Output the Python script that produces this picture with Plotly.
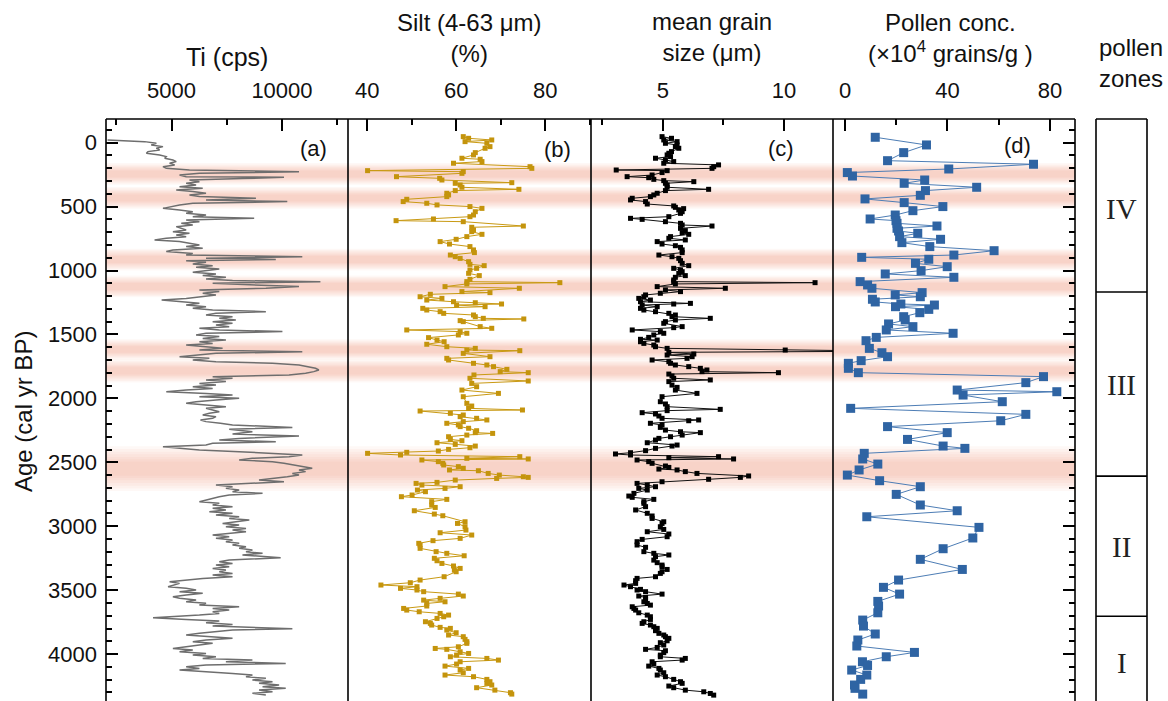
import plotly.graph_objects as go

# ---------------- data ----------------
# Ti (XRF counts) against age
ti_age = [-21, -8, 5, 18, 31, 44, 57, 70, 83, 96, 109, 122, 135, 148, 161, 174, 188, 201, 214, 227,
          240, 253, 266, 271, 281, 292, 305, 318, 331, 344, 357, 370, 383, 396, 409, 422, 435, 448, 461, 474,
          487, 500, 514, 527, 540, 553, 566, 579, 592, 605, 618, 631, 644, 657, 683, 696, 709, 722, 735, 748,
          761, 774, 787, 800, 813, 826, 839, 852, 866, 879, 892, 905, 913, 923, 936, 949, 962, 975, 988, 1001,
          1014, 1027, 1040, 1053, 1066, 1079, 1087, 1100, 1113, 1126, 1139, 1152, 1165, 1178, 1191, 1205, 1218, 1231, 1244, 1257,
          1270, 1283, 1296, 1309, 1322, 1335, 1348, 1361, 1374, 1387, 1400, 1413, 1426, 1439, 1452, 1465, 1478, 1491, 1504, 1517,
          1531, 1544, 1557, 1570, 1583, 1596, 1609, 1622, 1635, 1648, 1661, 1674, 1687, 1700, 1713, 1726, 1739, 1752, 1765, 1778,
          1791, 1804, 1817, 1830, 1843, 1856, 1869, 1883, 1896, 1909, 1922, 1935, 1948, 1961, 1974, 1987, 2000, 2013, 2026, 2039,
          2052, 2065, 2078, 2091, 2104, 2117, 2130, 2143, 2156, 2169, 2182, 2195, 2208, 2227, 2242, 2261, 2279, 2294, 2313, 2326,
          2339, 2352, 2365, 2378, 2391, 2404, 2417, 2430, 2443, 2456, 2469, 2482, 2495, 2508, 2521, 2534, 2547, 2560, 2573, 2587,
          2600, 2613, 2626, 2639, 2652, 2665, 2678, 2691, 2704, 2717, 2730, 2743, 2756, 2769, 2782, 2795, 2808, 2821, 2834, 2847,
          2860, 2873, 2886, 2899, 2912, 2926, 2939, 2952, 2965, 2978, 2991, 3004, 3017, 3030, 3043, 3056, 3069, 3082, 3095, 3108,
          3121, 3134, 3147, 3160, 3173, 3186, 3199, 3212, 3225, 3246, 3265, 3278, 3291, 3304, 3317, 3330, 3343, 3356, 3369, 3382,
          3395, 3408, 3421, 3434, 3447, 3460, 3473, 3486, 3499, 3512, 3525, 3538, 3551, 3564, 3577, 3590, 3603, 3616, 3630, 3643,
          3656, 3669, 3682, 3695, 3716, 3729, 3742, 3755, 3768, 3781, 3791, 3802, 3812, 3825, 3838, 3851, 3864, 3877, 3890, 3903,
          3916, 3929, 3943, 3956, 3969, 3982, 3995, 4008, 4021, 4034, 4047, 4060, 4073, 4086, 4099, 4112, 4125, 4138, 4151, 4164,
          4177, 4190, 4203, 4216, 4229, 4242, 4255, 4268, 4281, 4294, 4307, 4320]
ti_cps = [2100, 3780, 4310, 4080, 4610, 4310, 4460, 3930, 3860, 4460, 4760, 4690, 5060, 5210, 4910, 5140, 4610, 4760, 5810, 10770,
          6260, 5360, 5660, 10090, 8210, 5810, 6260, 5660, 6110, 5360, 6410, 5210, 5960, 6560, 5810, 6260, 8820, 6560, 10240, 5960,
          5360, 5060, 4610, 5360, 5960, 5660, 6560, 5960, 8740, 5660, 6260, 5440, 5960, 5210, 5660, 5060, 5810, 5210, 5660, 4760,
          4230, 5360, 5810, 6260, 5660, 6410, 5060, 4760, 5960, 5660, 10920, 6560, 9720, 5660, 6560, 5960, 6860, 6110, 7160, 6560,
          5960, 7010, 6410, 7460, 6560, 7760, 11740, 6860, 8960, 10770, 9270, 6260, 7160, 6410, 7010, 6260, 5660, 4550, 5360, 6260,
          5660, 6560, 5960, 6860, 9270, 7010, 6560, 7760, 7160, 7910, 6860, 7760, 7010, 7610, 6260, 7160, 10020, 6560, 6110, 7160,
          6410, 7460, 6260, 6860, 5660, 6560, 7310, 6260, 10920, 7010, 6260, 5360, 6710, 5960, 7010, 9570, 10770, 11220, 11520, 11670,
          11440, 11070, 10320, 6860, 7760, 6560, 7460, 6260, 7010, 5960, 6860, 5660, 4760, 6560, 7760, 6260, 8060, 7010, 6110, 5660,
          6710, 7460, 6560, 6910, 7160, 6710, 6410, 7010, 6860, 6310, 6560, 7210, 7760, 10470, 7610, 8660, 7760, 10770, 8060, 7160,
          9720, 6860, 6560, 4610, 5660, 6260, 8060, 9270, 10920, 10320, 8660, 8060, 9570, 10090, 10470, 10920, 11370, 10770, 11070, 10470,
          10770, 10240, 9570, 8960, 10090, 8660, 7010, 7760, 7460, 8060, 7760, 9120, 7610, 7160, 6860, 6560, 6260, 7160, 6860, 7760,
          6860, 7460, 6710, 7760, 7010, 8060, 7610, 8520, 7760, 7310, 8060, 7460, 8370, 7760, 8370, 7610, 6860, 7610, 7010, 7760,
          7460, 8060, 7760, 8370, 8060, 8660, 8370, 9120, 8210, 9940, 7610, 7160, 7760, 7010, 7610, 6860, 7460, 7160, 7760, 6860,
          7760, 6410, 5660, 4910, 5360, 5060, 4840, 5660, 6110, 5360, 6410, 5660, 5060, 5360, 6110, 5660, 6560, 6260, 8060, 6860,
          7610, 6860, 7160, 6260, 4160, 5660, 7160, 6560, 7760, 6860, 8820, 10470, 7760, 6860, 6260, 5660, 6560, 7760, 6560, 5960,
          6860, 6260, 5660, 5060, 5960, 5360, 6560, 5960, 7010, 6410, 8660, 7460, 10170, 6560, 5660, 6260, 5360, 6860, 7760, 8660,
          8370, 9270, 8660, 9570, 8960, 9870, 9120, 10170, 8960, 9570, 8660, 9270]

# Silt (4-63 um) percentage
silt_age = [-47, -34, -21, -8, 5, 31, 44, 78, 96, 122, 130, 148, 161, 188, 201, 219, 227, 240, 266, 279,
            292, 313, 318, 331, 349, 365, 375, 396, 409, 422, 443, 461, 474, 487, 500, 514, 540, 566, 579, 597,
            610, 618, 652, 662, 683, 696, 717, 735, 756, 774, 793, 813, 839, 860, 879, 892, 905, 931, 952, 962,
            983, 996, 1022, 1040, 1069, 1087, 1095, 1105, 1126, 1139, 1165, 1173, 1186, 1205, 1218, 1231, 1244, 1252, 1262, 1270,
            1283, 1296, 1309, 1322, 1335, 1348, 1361, 1374, 1379, 1392, 1400, 1439, 1452, 1465, 1478, 1491, 1504, 1525, 1544, 1557,
            1577, 1596, 1609, 1622, 1627, 1648, 1674, 1687, 1700, 1726, 1739, 1752, 1773, 1791, 1799, 1817, 1843, 1864, 1883, 1909,
            1935, 1961, 1987, 2039, 2060, 2078, 2091, 2099, 2117, 2130, 2143, 2156, 2169, 2182, 2195, 2208, 2221, 2234, 2253, 2268,
            2274, 2287, 2300, 2321, 2331, 2347, 2360, 2373, 2386, 2399, 2412, 2422, 2430, 2443, 2456, 2469, 2474, 2482, 2495, 2508,
            2521, 2534, 2547, 2560, 2566, 2587, 2600, 2613, 2618, 2626, 2639, 2657, 2665, 2678, 2691, 2704, 2717, 2730, 2756, 2769,
            2790, 2808, 2834, 2853, 2879, 2905, 2918, 2965, 2978, 3004, 3030, 3051, 3069, 3095, 3113, 3134, 3147, 3173, 3199, 3212,
            3231, 3251, 3270, 3291, 3311, 3330, 3343, 3356, 3395, 3421, 3442, 3460, 3473, 3486, 3499, 3512, 3531, 3546, 3564, 3578,
            3591, 3604, 3624, 3643, 3656, 3669, 3682, 3695, 3708, 3721, 3747, 3760, 3773, 3791, 3799, 3812, 3833, 3851, 3864, 3885,
            3903, 3916, 3943, 3956, 3963, 3982, 3995, 4008, 4021, 4034, 4047, 4060, 4078, 4094, 4112, 4125, 4146, 4164, 4177, 4198,
            4216, 4229, 4242, 4263, 4282, 4302, 4313]
silt_pct = [61.6, 62.8, 68.0, 62.0, 66.9, 67.6, 66.5, 64.3, 63.9, 61.3, 65.4, 65.8, 59.4, 76.6, 77.0, 40.1, 61.6, 61.3, 46.6, 56.3,
            56.8, 72.5, 59.8, 60.9, 61.3, 74.1, 59.8, 57.9, 58.3, 57.9, 48.9, 48.1, 53.4, 55.7, 63.1, 65.8, 64.3, 63.9, 63.1, 54.9,
            46.5, 61.6, 75.1, 63.5, 63.9, 63.5, 65.8, 62.4, 60.0, 56.4, 58.5, 63.1, 63.9, 64.1, 58.7, 59.8, 60.9, 62.8, 63.1, 66.3,
            64.6, 63.1, 62.8, 65.2, 63.1, 62.4, 83.3, 62.4, 57.5, 74.2, 61.3, 67.6, 54.2, 51.9, 56.8, 53.4, 59.4, 64.3, 70.2, 60.1,
            66.5, 52.5, 53.4, 56.4, 57.2, 63.9, 64.3, 66.1, 75.2, 60.9, 61.6, 65.4, 68.0, 48.9, 60.9, 62.4, 60.5, 53.8, 55.7, 57.3,
            53.4, 57.9, 64.3, 62.4, 74.3, 61.6, 67.6, 57.9, 58.3, 63.9, 66.9, 68.4, 71.4, 69.9, 76.2, 64.0, 63.1, 76.2, 63.5, 64.6,
            61.3, 69.5, 61.6, 62.4, 63.5, 62.8, 74.9, 51.9, 58.7, 61.6, 60.9, 64.6, 66.9, 61.6, 57.9, 60.5, 60.9, 62.8, 64.6, 64.3,
            68.2, 62.4, 58.3, 58.7, 61.3, 55.7, 59.8, 64.3, 63.1, 58.3, 56.0, 48.9, 40.1, 47.5, 74.3, 62.4, 76.2, 52.3, 56.0, 57.0,
            57.2, 60.5, 61.6, 58.5, 65.0, 67.2, 69.7, 75.1, 76.2, 69.1, 59.8, 55.7, 51.0, 52.3, 60.9, 57.5, 51.3, 53.1, 50.1, 47.7,
            57.9, 54.5, 54.5, 55.3, 50.6, 55.1, 57.0, 62.0, 60.3, 62.0, 62.2, 56.4, 63.5, 60.9, 54.8, 51.6, 51.9, 51.9, 55.5, 57.9,
            61.8, 55.1, 55.7, 56.8, 59.4, 60.9, 59.6, 60.0, 57.3, 51.9, 49.7, 43.1, 51.2, 47.5, 51.2, 52.7, 60.5, 61.6, 56.4, 52.7,
            57.5, 53.4, 53.4, 48.2, 48.9, 51.7, 56.4, 58.3, 57.2, 55.7, 53.1, 54.2, 54.5, 56.4, 58.7, 57.9, 60.0, 58.3, 61.6, 62.0,
            62.4, 62.4, 60.5, 55.3, 57.9, 60.9, 62.8, 60.1, 58.7, 66.9, 69.5, 60.9, 60.1, 57.5, 62.8, 60.9, 61.6, 57.5, 63.9, 66.9,
            67.6, 66.9, 68.0, 64.6, 68.7, 72.2, 72.5]

# Mean grain size (um)
gs_age = [-47, -34, -21, -8, 5, 18, 31, 44, 70, 83, 96, 109, 122, 135, 148, 161, 174, 188, 201, 214,
          219, 234, 253, 266, 274, 287, 297, 305, 318, 331, 349, 365, 375, 396, 409, 422, 435, 448, 461, 480,
          495, 506, 516, 527, 540, 553, 579, 592, 600, 618, 631, 644, 652, 670, 688, 704, 717, 735, 748, 761,
          774, 793, 806, 819, 839, 860, 879, 892, 905, 923, 944, 962, 983, 996, 1009, 1022, 1040, 1053, 1074, 1087,
          1095, 1105, 1126, 1139, 1152, 1165, 1178, 1191, 1205, 1218, 1231, 1244, 1257, 1262, 1270, 1283, 1296, 1309, 1322, 1335,
          1348, 1361, 1374, 1387, 1400, 1413, 1439, 1447, 1465, 1478, 1491, 1504, 1523, 1538, 1544, 1557, 1570, 1583, 1596, 1609,
          1622, 1631, 1640, 1653, 1661, 1674, 1687, 1700, 1713, 1726, 1739, 1752, 1765, 1778, 1791, 1799, 1810, 1825, 1843, 1856,
          1869, 1896, 1914, 1935, 1961, 1987, 2026, 2044, 2065, 2086, 2096, 2112, 2122, 2138, 2156, 2169, 2175, 2195, 2208, 2227,
          2248, 2261, 2268, 2287, 2300, 2313, 2326, 2347, 2365, 2373, 2391, 2409, 2425, 2435, 2443, 2456, 2464, 2474, 2482, 2495,
          2508, 2529, 2540, 2553, 2560, 2573, 2587, 2607, 2618, 2633, 2652, 2665, 2678, 2691, 2704, 2717, 2743, 2764, 2774, 2790,
          2808, 2821, 2847, 2873, 2899, 2920, 2939, 2965, 2978, 3004, 3025, 3043, 3061, 3082, 3103, 3121, 3147, 3165, 3199, 3212,
          3225, 3238, 3265, 3285, 3304, 3317, 3338, 3356, 3369, 3395, 3408, 3426, 3447, 3460, 3473, 3494, 3499, 3512, 3531, 3546,
          3557, 3572, 3591, 3604, 3617, 3630, 3643, 3656, 3677, 3695, 3708, 3729, 3747, 3760, 3773, 3786, 3799, 3817, 3838, 3851,
          3864, 3877, 3896, 3911, 3929, 3948, 3963, 3974, 3989, 4008, 4021, 4034, 4047, 4060, 4078, 4094, 4112, 4125, 4146, 4164,
          4177, 4198, 4216, 4229, 4250, 4263, 4282, 4295, 4308, 4321]
gs_um = [4.97, 5.36, 5.04, 5.59, 5.11, 5.59, 5.52, 5.66, 5.36, 5.25, 5.18, 5.32, 4.70, 5.11, 5.45, 5.04, 7.30, 7.10, 7.03, 3.08,
         5.18, 4.97, 4.56, 3.53, 4.42, 4.63, 5.04, 6.28, 5.11, 5.18, 5.18, 6.89, 5.11, 4.77, 4.63, 4.49, 3.74, 3.67, 4.29, 4.36,
         5.45, 5.52, 5.86, 5.66, 5.80, 5.73, 5.25, 3.67, 4.15, 5.11, 5.73, 5.80, 7.03, 5.73, 5.93, 5.80, 6.07, 5.32, 5.25, 5.93,
         4.77, 4.97, 5.52, 5.73, 5.80, 5.80, 4.84, 5.38, 5.66, 5.73, 5.80, 6.07, 5.45, 5.73, 5.80, 5.66, 5.93, 5.52, 5.45, 5.45,
         11.28, 5.52, 4.77, 7.58, 5.11, 5.73, 4.90, 4.29, 4.22, 4.01, 4.49, 4.08, 6.14, 5.45, 4.15, 4.77, 4.08, 4.22, 4.70, 5.25,
         5.52, 5.38, 6.96, 5.52, 5.11, 5.04, 5.80, 5.45, 3.74, 4.90, 5.04, 4.63, 4.42, 4.08, 4.77, 4.08, 4.22, 4.63, 4.70, 5.18,
         10.05, 14.5, 5.25, 6.28, 5.18, 6.21, 6.00, 4.56, 5.25, 5.32, 5.52, 6.07, 6.55, 6.82, 6.62, 9.77, 5.25, 5.38, 5.45, 6.96,
         5.25, 5.38, 5.59, 5.52, 6.41, 4.97, 4.90, 5.11, 5.18, 7.37, 5.18, 4.15, 4.70, 4.84, 4.97, 6.48, 6.07, 4.49, 4.97, 4.90,
         5.11, 5.73, 6.55, 5.80, 5.32, 4.84, 4.70, 4.36, 5.59, 5.38, 4.70, 4.29, 3.67, 3.05, 3.67, 7.30, 5.25, 7.92, 3.94, 4.42,
         4.56, 5.11, 5.25, 4.84, 5.59, 5.93, 6.41, 8.54, 8.20, 6.89, 4.97, 3.94, 4.36, 4.70, 4.01, 4.36, 3.81, 3.60, 3.74, 4.63,
         4.22, 4.22, 4.29, 3.88, 4.36, 4.56, 4.56, 5.04, 4.97, 4.90, 5.04, 4.36, 5.25, 5.18, 4.15, 3.94, 3.94, 4.29, 4.22, 4.63,
         5.25, 4.70, 4.63, 4.77, 4.97, 4.97, 5.18, 4.97, 4.90, 4.70, 3.94, 3.88, 3.88, 3.40, 3.67, 4.08, 3.94, 4.29, 4.97, 4.01,
         4.29, 4.29, 4.22, 4.36, 4.49, 3.74, 3.81, 3.88, 4.01, 4.36, 4.49, 4.49, 4.22, 4.15, 4.49, 4.63, 4.77, 4.70, 4.84, 5.04,
         5.11, 5.25, 5.18, 4.90, 5.04, 4.77, 4.29, 5.11, 5.04, 4.90, 4.90, 5.93, 5.80, 4.56, 4.63, 4.42, 4.84, 4.90, 5.04, 4.77,
         5.11, 5.45, 5.73, 5.80, 5.25, 5.45, 5.93, 6.69, 6.96, 7.10]

# Pollen concentration (x10^4 grains/g)
pollen_age = [-42, 18, 78, 141, 169, 206, 234, 261, 292, 318, 349, 375, 412, 440, 469, 500, 532, 566, 597, 610,
              631, 652, 670, 691, 709, 735, 756, 782, 813, 845, 879, 897, 912, 944, 970, 1001, 1027, 1053, 1087, 1113,
              1139, 1173, 1191, 1205, 1225, 1246, 1262, 1270, 1283, 1304, 1330, 1361, 1387, 1418, 1439, 1465, 1491, 1523, 1549, 1609,
              1643, 1674, 1705, 1726, 1765, 1799, 1830, 1877, 1935, 1948, 1974, 2026, 2078, 2125, 2175, 2221, 2268, 2321, 2373, 2391,
              2430, 2474, 2514, 2560, 2600, 2644, 2691, 2751, 2834, 2879, 2926, 3009, 3092, 3176, 3259, 3338, 3421, 3478, 3531, 3588,
              3624, 3677, 3734, 3781, 3843, 3890, 3937, 3987, 4021, 4060, 4089, 4125, 4164, 4198, 4242, 4268, 4313]
pollen_conc = [11.8, 31.8, 22.9, 16.6, 73.6, 40.5, 0.9, 2.9, 31.1, 23.1, 51.4, 31.4, 29.4, 7.8, 23.1, 38.2, 26.5, 19.6, 9.8, 19.9,
               20.3, 35.9, 20.3, 20.9, 28.4, 21.3, 37.3, 22.2, 33.1, 58.2, 42.5, 6.5, 32.7, 27.5, 39.9, 29.7, 15.7, 42.5, 5.9, 8.8,
               10.5, 30.1, 19.6, 29.4, 10.7, 11.8, 21.8, 34.9, 19.7, 32.7, 29.2, 22.9, 23.5, 17.0, 26.5, 16.1, 42.2, 12.2, 8.2, 9.5,
               14.4, 16.6, 6.3, 1.3, 1.3, 5.2, 77.5, 70.6, 43.8, 82.7, 46.1, 61.4, 2.2, 70.6, 60.8, 16.6, 39.9, 24.4, 38.3, 46.8,
               7.5, 6.9, 12.8, 5.5, 0.9, 13.5, 29.4, 20.0, 29.4, 43.8, 8.5, 52.3, 49.9, 38.3, 29.4, 45.8, 20.9, 15.0, 21.3, 12.8,
               13.1, 12.8, 6.9, 7.2, 11.8, 5.0, 4.6, 27.1, 16.1, 6.8, 8.8, 2.6, 8.5, 6.1, 3.7, 3.9, 6.9]

# Pollen zones (upper/lower age limits) and labels
zone_limits = [1168, 2608, 3704]
zone_names = ["IV", "III", "II", "I"]
zone_label_age = [519, 1898, 3164, 4071]

# Highlighted intervals: centre age and half-width (years)
band_center = [245, 432, 914, 1125, 1618, 1785, 2550]
band_half = [85, 85, 85, 85, 80, 90, 175]

# ---------------- layout helpers ----------------
W, H = 1168, 701


def px(x):
    return x / W


def py(y):
    return 1 - y / H


FONT = "Liberation Sans, Arial, sans-serif"
INK = "#111111"
Y_TOP = py(119)
LEFT, RIGHT = 106, 1075
DIVS = [106, 348, 591, 833, 1075]
Y_RANGE = [4367, -185]

fig = go.Figure()

fig.add_trace(go.Scatter(x=ti_cps, y=ti_age, mode="lines",
                         line=dict(color="#6e6e6e", width=1.5),
                         xaxis="x", yaxis="y", showlegend=False))
fig.add_trace(go.Scatter(x=silt_pct, y=silt_age, mode="lines+markers",
                         line=dict(color="#C99A14", width=1),
                         marker=dict(symbol="square", size=5, color="#C4940C"),
                         xaxis="x2", yaxis="y", showlegend=False))
fig.add_trace(go.Scatter(x=gs_um, y=gs_age, mode="lines+markers",
                         line=dict(color="#111111", width=1),
                         marker=dict(symbol="square", size=5, color="#000000"),
                         xaxis="x3", yaxis="y", showlegend=False))
fig.add_trace(go.Scatter(x=pollen_conc, y=pollen_age, mode="lines+markers",
                         line=dict(color="#4D7DB5", width=1),
                         marker=dict(symbol="square", size=9, color="#2F64A3"),
                         xaxis="x4", yaxis="y", showlegend=False))
# carrier for the right-hand age ticks
fig.add_trace(go.Scatter(x=[None], y=[None], xaxis="x4", yaxis="y2",
                         showlegend=False, hoverinfo="skip"))


def top_axis(domain, rng, dtick, minor_dtick, fmt=None):
    ax = dict(domain=domain, range=rng, side="top", anchor="y",
              ticks="inside", ticklen=12, tickwidth=1.6, tickcolor="#000",
              tickmode="linear", tick0=0, dtick=dtick,
              minor=dict(ticks="inside", ticklen=6, tickwidth=1.6, tickcolor="#000",
                         tick0=0, dtick=minor_dtick),
              showgrid=False, zeroline=False, showline=False,
              tickfont=dict(family=FONT, size=22, color=INK),
              ticklabelstandoff=16)
    if fmt:
        ax["tickformat"] = fmt
    return ax


fig.update_layout(
    width=W, height=H,
    margin=dict(l=0, r=0, t=0, b=0),
    paper_bgcolor="white", plot_bgcolor="rgba(0,0,0,0)",
    xaxis=top_axis([px(106), px(348)], [2030, 12990], 5000, 2500, "d"),
    xaxis2=top_axis([px(348), px(591)], [35.7, 90.3], 20, 10),
    xaxis3=top_axis([px(591), px(833)], [2.04, 12.02], 5, 2.5),
    xaxis4=top_axis([px(833), px(1075)], [-4.7, 89.8], 40, 20),
    yaxis=dict(domain=[0, Y_TOP], range=Y_RANGE, anchor="x", side="left",
               ticks="inside", ticklen=12, tickwidth=1.6, tickcolor="#000",
               tickmode="linear", tick0=0, dtick=500,
               minor=dict(ticks="inside", ticklen=6, tickwidth=1.6, tickcolor="#000",
                          tick0=0, dtick=100),
               showgrid=False, zeroline=False, showline=False,
               tickfont=dict(family=FONT, size=22, color=INK),
               ticklabelstandoff=8),
    yaxis2=dict(domain=[0, Y_TOP], range=Y_RANGE, anchor="x4", side="right",
                overlaying="y", ticks="inside", ticklen=12, tickwidth=1.6, tickcolor="#000",
                tickmode="linear", tick0=0, dtick=500,
                minor=dict(ticks="inside", ticklen=6, tickwidth=1.6, tickcolor="#000",
                           tick0=0, dtick=100),
                showticklabels=False, showgrid=False, zeroline=False, showline=False),
)

shapes = []
# soft-edged highlight bands
fractions = [1.0, 0.88, 0.76, 0.64, 0.52, 0.42, 0.32]
for c, h in zip(band_center, band_half):
    for f in fractions:
        shapes.append(dict(type="rect", xref="paper", yref="y",
                           x0=px(LEFT), x1=px(RIGHT), y0=c - h * f, y1=c + h * f,
                           fillcolor="rgb(240,140,95)", opacity=0.058,
                           line=dict(width=0), layer="below"))

frame = dict(color="#000", width=1.6)
shapes.append(dict(type="line", xref="paper", yref="paper",
                   x0=px(LEFT), x1=px(RIGHT), y0=Y_TOP, y1=Y_TOP, line=frame))
for d in DIVS:
    shapes.append(dict(type="line", xref="paper", yref="paper",
                       x0=px(d), x1=px(d), y0=0, y1=Y_TOP, line=frame))

# pollen zone column
ZL, ZR = 1096, 1147
shapes.append(dict(type="line", xref="paper", yref="paper",
                   x0=px(ZL), x1=px(ZR), y0=Y_TOP, y1=Y_TOP, line=frame))
for d in (ZL, ZR):
    shapes.append(dict(type="line", xref="paper", yref="paper",
                       x0=px(d), x1=px(d), y0=0, y1=Y_TOP, line=frame))
for z in zone_limits:
    shapes.append(dict(type="line", xref="paper", yref="y",
                       x0=px(ZL), x1=px(ZR), y0=z, y1=z, line=frame))

fig.update_layout(shapes=shapes)

ann = []


def label(text, x, y, size=24, **kw):
    ann.append(dict(text=text, x=px(x), y=py(y), xref="paper", yref="paper",
                    showarrow=False, xanchor="center", yanchor="middle",
                    font=dict(family=FONT, size=size, color=INK), **kw))


label("Ti (cps)", 227, 57, size=25)
label("Silt (4-63 μm)<br>(%)", 469, 38)
label("mean grain<br>size (μm)", 712, 37)
label("Pollen conc.<br>(×10<sup>4</sup> grains/g )", 950, 38)
label("pollen<br>zones", 1131, 63)
label("Age (cal yr BP)", 23, 412, size=24, textangle=-90)

for t, x, y in [("(a)", 313, 149), ("(b)", 557, 150), ("(c)", 781, 148), ("(d)", 1017, 146)]:
    label(t, x, y, size=22)

for name, age in zip(zone_names, zone_label_age):
    ann.append(dict(text=name, x=px((ZL + ZR) / 2), y=age, xref="paper", yref="y",
                    showarrow=False, xanchor="center", yanchor="middle",
                    font=dict(family="Liberation Serif, Times New Roman, serif",
                              size=29, color="#222")))

fig.update_layout(annotations=ann)

fig.write_html("out.html")
